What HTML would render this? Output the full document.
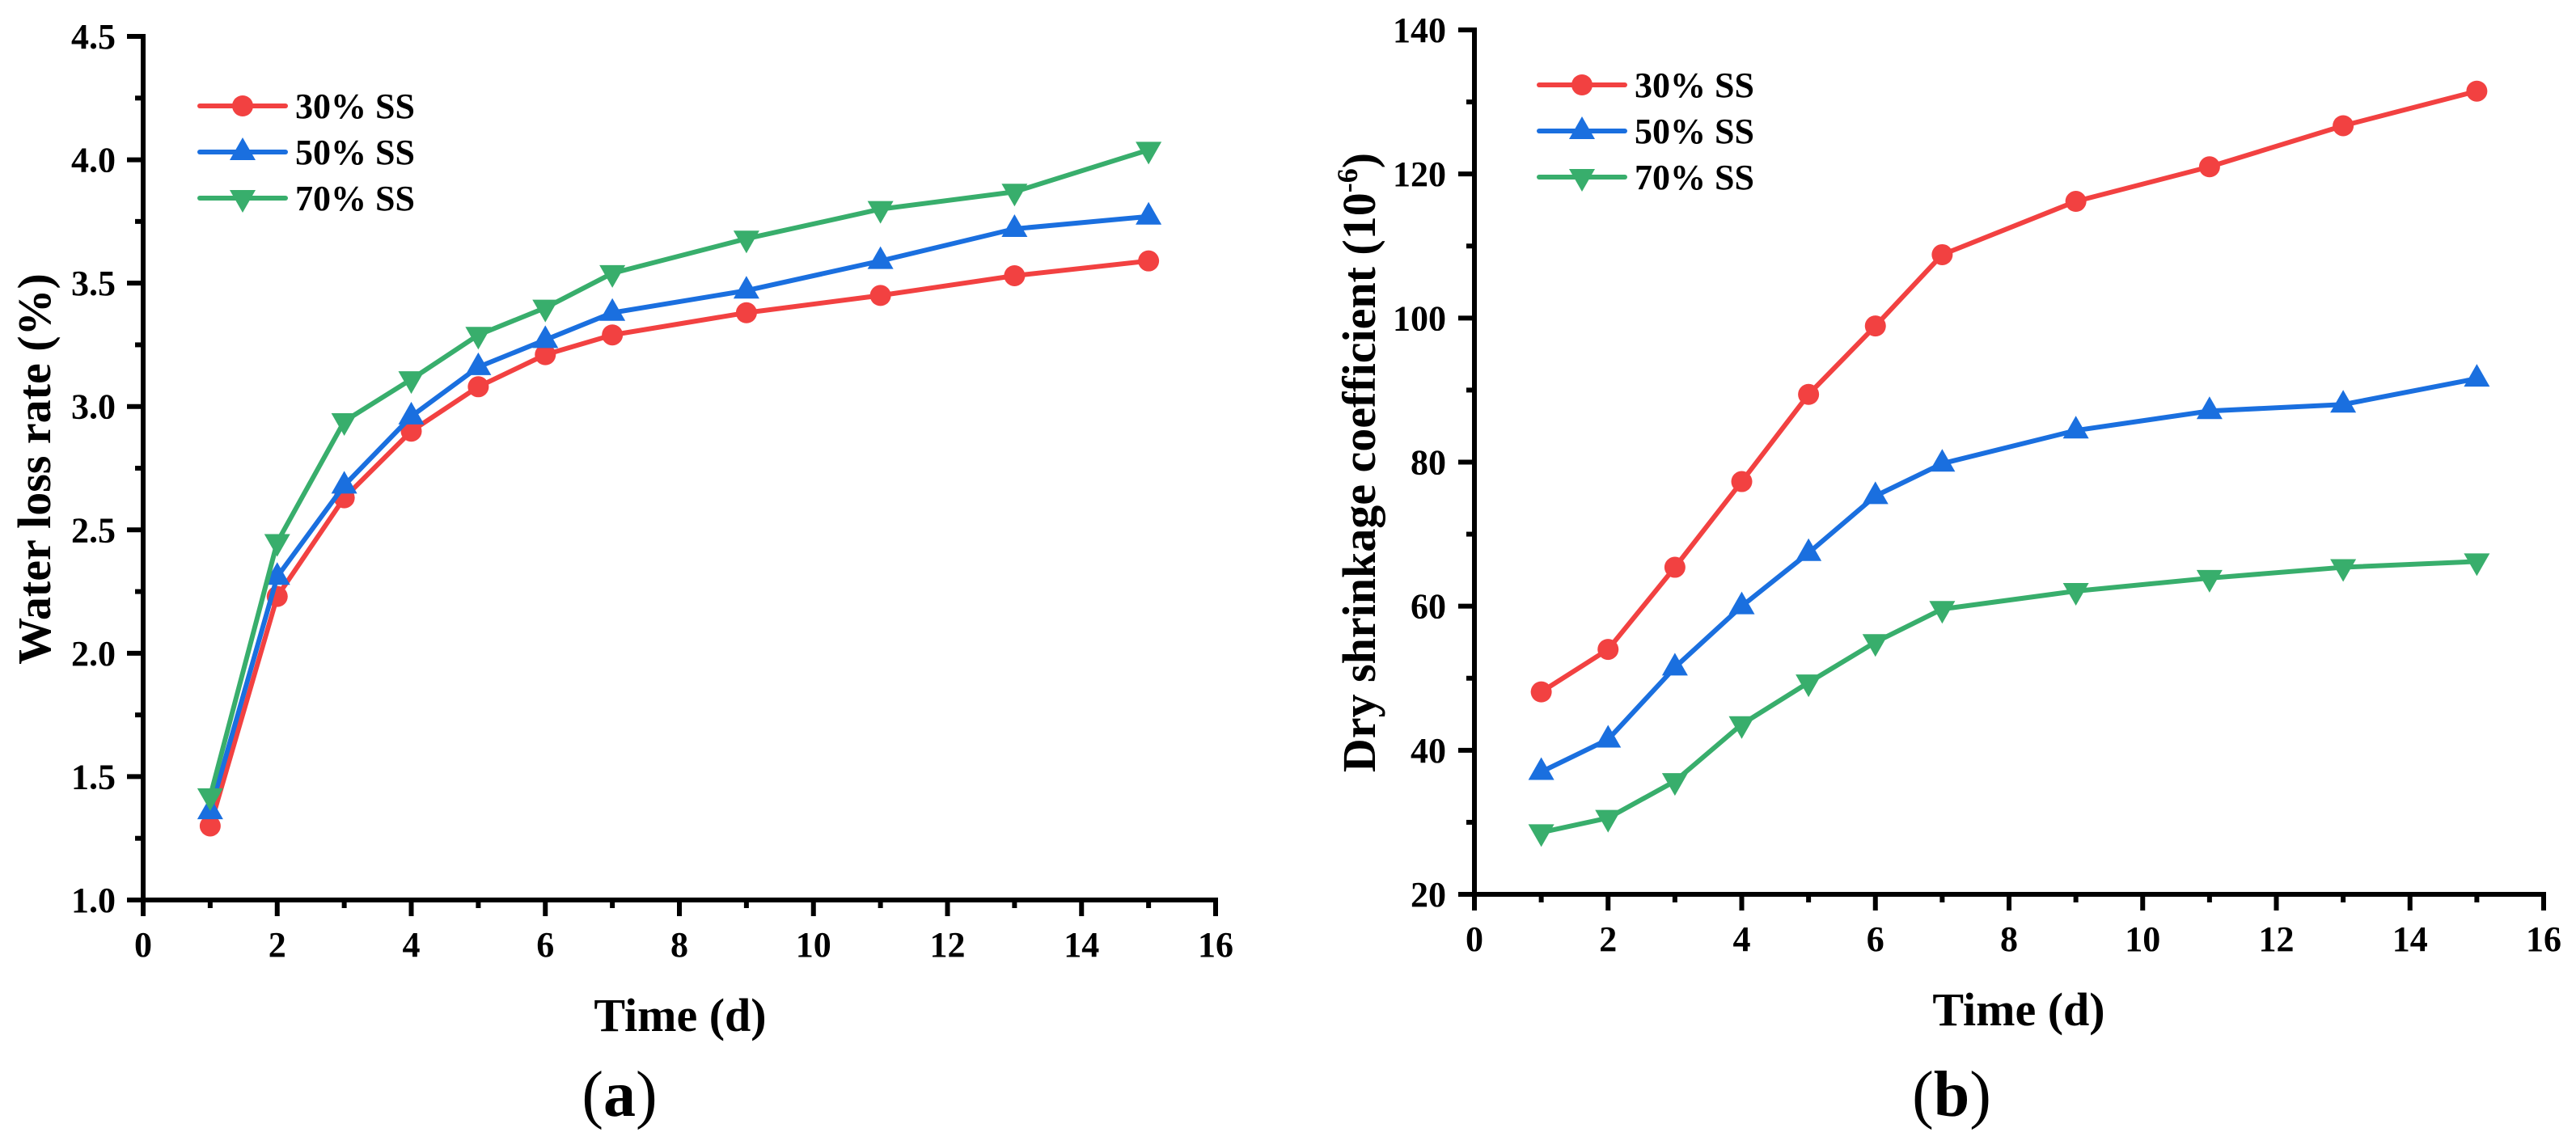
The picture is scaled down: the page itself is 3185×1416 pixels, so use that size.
<!DOCTYPE html>
<html><head><meta charset="utf-8"><style>
html,body{margin:0;padding:0;background:#fff;}
svg{display:block;}
svg text{font-family:"Liberation Serif","Times New Roman",serif;fill:#000;}
</style></head><body>
<svg id="fig" width="3185" height="1416" viewBox="0 0 3185 1416" xmlns="http://www.w3.org/2000/svg" font-family="Liberation Serif, Times New Roman, serif">
<g id="chartA"></g>
<g id="chartB"></g>
</svg>
<script>
const days = [1,2,3,4,5,6,7,9,11,13,15];
const seriesNames = ["30% SS","50% SS","70% SS"];
const waterLoss30 = [1.30,2.23,2.63,2.90,3.08,3.21,3.29,3.38,3.45,3.53,3.59];
const waterLoss50 = [1.36,2.31,2.68,2.96,3.16,3.27,3.38,3.47,3.59,3.72,3.77];
const waterLoss70 = [1.42,2.45,2.94,3.11,3.29,3.40,3.54,3.68,3.80,3.87,4.04];
const shrink30 = [48.1,54.0,65.4,77.3,89.4,98.9,108.8,116.2,121.0,126.7,131.5];
const shrink50 = [37.0,41.5,51.5,60.0,67.4,75.3,79.8,84.4,87.1,88.0,91.6];
const shrink70 = [28.6,30.6,35.7,43.6,49.4,55.0,59.6,62.1,63.9,65.4,66.2];
const xTicks = [0,2,4,6,8,10,12,14,16];
const yTicksA = ["1.0","1.5","2.0","2.5","3.0","3.5","4.0","4.5"];
const yTicksB = ["20","40","60","80","100","120","140"];

const NS="http://www.w3.org/2000/svg";
const FONT="Liberation Serif, Times New Roman, serif";
const colors=["#f24141","#1a6fdf","#38ae6c"];
function mk(tag,attrs,parent){const e=document.createElementNS(NS,tag);for(const k in attrs)e.setAttribute(k,attrs[k]);if(tag==='text')e.setAttribute('font-family',FONT);parent.appendChild(e);return e;}

function marker(g,kind,cx,cy,color){
  let m;
  if(kind===0){m=mk('circle',{cx:cx,cy:cy,r:13,fill:color},g);}
  else if(kind===1){m=mk('polygon',{points:`${cx},${cy-18} ${cx-16},${cy+10} ${cx+16},${cy+10}`,fill:color},g);}
  else {m=mk('polygon',{points:`${cx},${cy+18} ${cx-16},${cy-10} ${cx+16},${cy-10}`,fill:color},g);}
  return m;
}

function drawChart(g,cfg){
  const sx=v=>cfg.x0+(v-0)/16*(cfg.x1-cfg.x0);
  const sy=v=>cfg.yb-(v-cfg.ymin)/(cfg.ymax-cfg.ymin)*(cfg.yb-cfg.yt);
  cfg.series.forEach((vals,si)=>{
    const sg=mk('g',{},g);
    
    
    const pts=days.map((d,i)=>sx(d)+','+sy(vals[i])).join(' ');
    const pl=mk('polyline',{points:pts,fill:'none',stroke:colors[si],'stroke-width':6,'stroke-linejoin':'round'},sg);
    
    
    days.forEach((d,i)=>{
      const m=marker(sg,si,sx(d),sy(vals[i]),colors[si]);
      
      
    });
  });
  const ax=mk('g',{stroke:'#000','stroke-width':6,fill:'none'},g);
  
  
  mk('line',{x1:cfg.x0,y1:cfg.yt-3,x2:cfg.x0,y2:cfg.yb+3},ax);
  mk('line',{x1:cfg.x0-3,y1:cfg.yb,x2:cfg.x1+3,y2:cfg.yb},ax);
  for(let v=0;v<=16;v++){
    const len=(v%2===0)?20:10;
    mk('line',{x1:sx(v),y1:cfg.yb,x2:sx(v),y2:cfg.yb+len},ax);
  }
  xTicks.forEach(v=>{
    const t=mk('text',{x:sx(v),y:cfg.yb+70,'text-anchor':'middle','font-size':44,'font-weight':'bold'},g);
    t.textContent=v;
    
    
  });
  const nMinor=(cfg.yTicks.length-1)*2;
  for(let i=0;i<=nMinor;i++){
    const v=cfg.ymin+i*(cfg.ymax-cfg.ymin)/nMinor;
    const len=(i%2===0)?20:10;
    mk('line',{x1:cfg.x0-len,y1:sy(v),x2:cfg.x0,y2:sy(v)},ax);
  }
  cfg.yTicks.forEach(lbl=>{
    const t=mk('text',{x:cfg.labelRight,y:sy(parseFloat(lbl))+15,'text-anchor':'end','font-size':44,'font-weight':'bold'},g);
    t.textContent=lbl;
    
    
  });
  const xt=mk('text',{x:cfg.xtX,y:cfg.xtY,'text-anchor':'middle','font-size':58,'font-weight':'bold'},g);
  xt.textContent='Time (d)';
  
  
  const yt=mk('text',{x:0,y:0,'text-anchor':'middle','font-size':58,'font-weight':'bold',transform:`translate(${cfg.ytX},${cfg.ytY}) rotate(-90)`},g);
  yt.innerHTML=cfg.yTitle;
  
  
  const pl=mk('text',{x:cfg.panelX,y:cfg.panelY,'text-anchor':'middle','font-size':80},g);
  pl.innerHTML='(<tspan font-weight="bold">'+cfg.panel+'</tspan>)';
  
  
  const lg=mk('g',{},g);
  
  
  seriesNames.forEach((n,i)=>{
    const y=cfg.legY+i*cfg.legDy;
    const e=mk('g',{},lg);
    
    
    mk('line',{x1:cfg.legX,y1:y,x2:cfg.legX+106,y2:y,stroke:colors[i],'stroke-width':6,'stroke-linecap':'round'},e);
    marker(e,i,cfg.legX+53,y,colors[i]);
    const t=mk('text',{x:cfg.legX+118,y:y+15,'font-size':44,'font-weight':'bold'},e);
    t.textContent=n;
  });
}

drawChart(document.getElementById('chartA'),{
  x0:177,x1:1503,yt:45,yb:1113,ymin:1.0,ymax:4.5,yTicks:yTicksA,labelRight:143,
  series:[waterLoss30,waterLoss50,waterLoss70],
  xtX:841,xtY:1275,ytX:62,ytY:580,yTitle:'Water loss rate (%)',
  panel:'a',panelX:766,panelY:1380,legX:247,legY:131,legDy:57
});
drawChart(document.getElementById('chartB'),{
  x0:1823,x1:3145,yt:37,yb:1106,ymin:20,ymax:140,yTicks:yTicksB,labelRight:1788,
  series:[shrink30,shrink50,shrink70],
  xtX:2496,xtY:1268,ytX:1700,ytY:572,yTitle:'Dry shrinkage coefficient (10<tspan font-size="36" dy="-22">-6</tspan><tspan dy="22">)</tspan>',
  panel:'b',panelX:2413,panelY:1380,legX:1903,legY:105,legDy:57
});
</script>
</body></html>
